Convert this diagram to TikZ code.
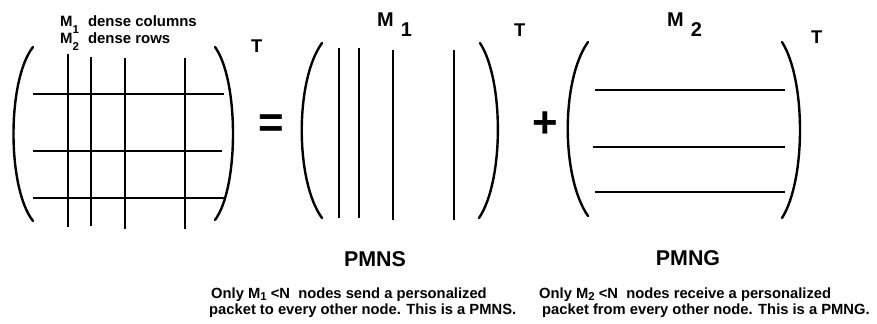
\documentclass[tikz,border=0pt]{standalone}
\usepackage{fontspec}
\setmainfont{Liberation Sans}
\newcommand\dsub[2][2bp]{\smash{\raisebox{-#1}{\fontsize{11.5}{11.5}\selectfont #2}}}
\begin{document}
\begin{tikzpicture}[x=1bp,y=-1bp,
  bar/.style={line width=2.6bp, line cap=butt},
  thinbar/.style={line width=2.2bp, line cap=butt},
  paren/.style={line width=2.4bp, line cap=round},
  small/.style={inner sep=0pt, font=\bfseries\fontsize{14.8}{14}\selectfont},
  toplbl/.style={inner sep=0pt, font=\bfseries\fontsize{15}{15}\selectfont},
  tlbl/.style={inner sep=0pt, anchor=base west, font=\bfseries\fontsize{18.5}{18}\selectfont},
  mlbl/.style={inner sep=0pt, anchor=base west, font=\bfseries\fontsize{20}{20}\selectfont},
  title/.style={inner sep=0pt, anchor=base, font=\bfseries\fontsize{21.5}{21}\selectfont},
  op/.style={inner sep=0pt, font=\bfseries\fontsize{44}{44}\selectfont}]
\useasboundingbox (0,0) rectangle (877,323);

% ---- left matrix ----
\draw[paren] (33,47) .. controls (7,80) and (7,188) .. (33,221);
\draw[paren] (215,47) .. controls (239,80) and (239,188) .. (215,220);
\draw[bar] (68,54) -- (68,227);
\draw[bar] (91,57) -- (91,226);
\draw[bar] (125,58) -- (125,229);
\draw[bar] (185,58) -- (185,229);
\draw[bar] (33,94) -- (224,94);
\draw[bar] (33,151) -- (222,151);
\draw[bar] (33,198) -- (224,198);
\node[toplbl, anchor=base west] (lab1) at (60,26) {M\dsub[7bp]{1}\hspace{9bp}dense columns};
\node[toplbl, anchor=base west] (lab2) at (60,43) {M\dsub[7bp]{2}\hspace{9bp}dense rows};
\node[tlbl] (t0) at (251,52) {T};

\node[op] (eq) at (271.5,126.5) {=};

% ---- middle matrix ----
\draw[paren] (322,43) .. controls (295,80) and (295,181) .. (322,218);
\draw[paren] (480,43) .. controls (504,80) and (504,181) .. (479,218);
\draw[bar] (339,48) -- (339,218);
\draw[bar] (359,48) -- (359,218);
\draw[bar] (393,50) -- (393,220);
\draw[bar] (454,50) -- (454,220);
\node[mlbl] (m1) at (377,26) {M\hspace{7bp}\raisebox{-10bp}{1}};
\node[tlbl] (t1) at (514,36) {T};
\node[title] (pmns) at (375,266) {PMNS};

\node[op] (plus) at (545.5,125) {+};

% ---- right matrix ----
\draw[paren] (588,42) .. controls (561,80) and (561,177) .. (588,216);
\draw[paren] (782,42) .. controls (806,80) and (806,180) .. (782,218);
\draw[thinbar] (595,90) -- (785,90);
\draw[thinbar] (593,147) -- (785,147);
\draw[thinbar] (595,192) -- (785,192);
\node[mlbl] (m2) at (667,26) {M\hspace{7bp}\raisebox{-10bp}{2}};
\node[tlbl] (t2) at (811,43) {T};
\node[title] (pmng) at (688,265) {PMNG};

% ---- captions ----
\node[small, anchor=base west] (c1a) at (211,298) {Only M\dsub{1} <N\ \ nodes send a personalized};
\node[small, anchor=base west] (c1b) at (209,314) {packet to every other node. This is a PMNS.};
\node[small, anchor=base west] (c2a) at (539,298) {Only M\dsub{2} <N\ \ nodes receive a personalized};
\node[small, anchor=base west] (c2b) at (542,314) {packet from every other node. This is a PMNG.};
\end{tikzpicture}
\end{document}
